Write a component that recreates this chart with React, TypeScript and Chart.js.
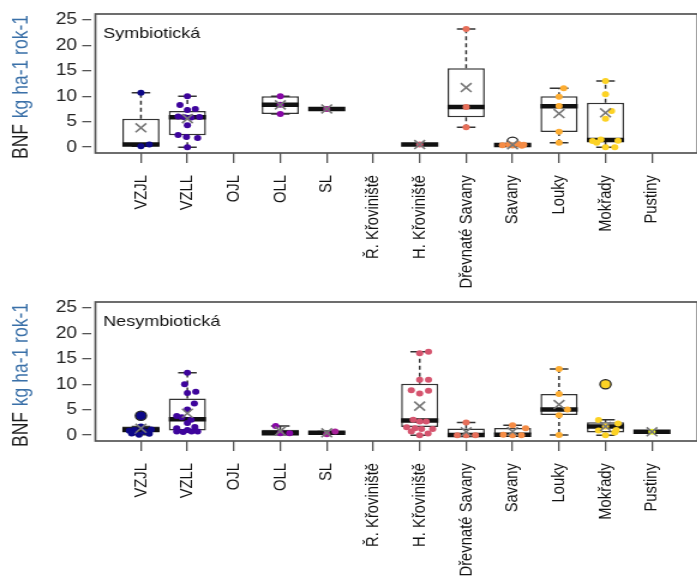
import React, { useEffect, useRef } from "react";
import { Chart, registerables } from "chart.js";

Chart.register(...registerables);

// ---- categories, colours, axis ticks ----
const categories = [
  "VZJL", "VZLL", "OJL", "OLL", "SL", "Ř. Křoviniště", "H. Křoviniště",
  "Dřevnaté Savany", "Savany", "Louky", "Mokřady", "Pustiny",
];
const habitatColors = [
  "#0D0887", "#3E049C", "#6300A7", "#8707A6", "#A62098", "#C03A83",
  "#D5546E", "#E76F5A", "#F58C46", "#FDAD32", "#FCD225", "#F0F921",
];
const yTicks = [0, 5, 10, 15, 20, 25];

// ---- Symbiotická: box statistics per habitat ----
const symMin = [0.2, 0, null, 6.5, 7.5, null, 0.5, 3.9, 0.25, 0.85, 0, null];
const symQ1 = [0.3, 2.35, null, 6.5, 7.5, null, 0.5, 5.85, 0.3, 2.95, 1.05, null];
const symMedian = [0.5, 5.85, null, 8.35, 7.5, null, 0.5, 7.9, 0.4, 8.05, 1.4, null];
const symQ3 = [5.6, 7.1, null, 10.0, 7.5, null, 0.5, 15.5, 0.5, 10.0, 8.7, null];
const symMax = [10.7, 10.0, null, 10.0, 7.5, null, 0.5, 23.2, 0.6, 11.55, 13.0, null];
const symMean = [3.8, 5.6, null, 8.3, 7.5, null, 0.5, 11.7, 0.45, 6.6, 6.75, null];
const symValues = [
  [10.7, 0.2, 0.5],
  [10.0, 8.3, 7.3, 7.5, 6.0, 5.85, 5.8, 5.9, 4.3, 2.4, 2.0, 1.8, 0.0],
  [],
  [10.0, 8.35, 6.5],
  [7.5],
  [],
  [0.5],
  [23.2, 7.9, 3.9],
  [0.35, 0.5, 0.3, 0.6, 0.25, 0.45],
  [11.55, 9.9, 8.1, 3.0, 0.85],
  [13.0, 10.4, 7.1, 5.6, 1.2, 1.5, 0.85, 1.25, 0.0, 0.0],
  [],
];
const symJitter = [
  [0, 0, 0.18],
  [0, -0.16, 0, 0.17, -0.2, -0.06, 0.08, 0.26, 0, -0.2, -0.02, 0.22, 0],
  [],
  [0, 0, 0],
  [0],
  [],
  [0],
  [0, 0, 0],
  [-0.22, -0.08, 0, 0.12, 0.2, 0.24],
  [0.1, 0, 0, 0, 0],
  [0, 0, 0.13, 0, -0.28, -0.1, -0.19, 0.27, 0, 0.2],
  [],
];
const symOutliers = [[], [], [], [], [], [], [], [], [1.05], [], [], []];

// ---- Nesymbiotická: box statistics per habitat ----
const nesMin = [0.06, 0.6, null, 0.35, 0.2, null, 0, 0, 0, 0.05, 0, 0.65];
const nesQ1 = [0.5, 0.9, null, 0.35, 0.3, null, 1.6, 0, 0, 3.95, 0.5, 0.65];
const nesMedian = [1.05, 3.1, null, 0.35, 0.45, null, 2.9, 0.05, 0.1, 5.05, 1.7, 0.65];
const nesQ3 = [1.7, 7.2, null, 1.05, 0.6, null, 10.1, 1.3, 1.4, 8.1, 2.55, 0.65];
const nesMax = [1.7, 12.25, null, 1.8, 0.7, null, 16.4, 2.5, 1.95, 13.0, 3.0, 0.65];
const nesMean = [1.35, 4.3, null, 0.8, 0.45, null, 5.7, 0.65, 0.7, 6.0, 1.7, 0.65];
const nesValues = [
  [3.8, 0.84, 1.03, 1.68, 0.7, 0.25, 0.06, 1.1, 0.3],
  [12.25, 10.0, 8.3, 8.5, 6.2, 5.05, 3.75, 3.5, 3.0, 1.35, 1.0, 1.6, 0.7, 0.6, 0.7, 0.7, 2.4],
  [],
  [1.8, 0.35, 0.35],
  [0.2, 0.7],
  [],
  [16.1, 16.4, 10.9, 10.9, 8.8, 8.2, 8.7, 3.0, 2.7, 2.7, 1.55, 1.35, 1.2, 1.2, 0.7, 0.0, 0.3],
  [2.5, 0.0, 0.0, 0.0],
  [1.95, 0.1, 0.0, 0.0, 1.35],
  [13.0, 8.1, 5.05, 3.9, 0.05],
  [10.0, 2.98, 1.7, 2.3, 1.0, 0.9, 0.0, 0.5],
  [0.65],
];
const nesJitter = [
  [0, -0.25, -0.14, 0, 0.08, 0.18, -0.04, 0.22, -0.2],
  [0, -0.06, 0, 0.18, 0.15, 0, -0.23, -0.12, 0.08, -0.23, 0, 0.16, -0.23, -0.09, 0.09, 0.22, 0],
  [],
  [-0.1, 0, 0.2],
  [0, 0.18],
  [],
  [0, 0.19, 0, 0.19, -0.18, 0, 0.19, -0.14, 0, 0.14, -0.28, -0.1, 0.04, 0.28, -0.18, 0, 0.18],
  [0, -0.19, 0, 0.2],
  [0, -0.2, 0, 0.19, 0.28],
  [0, 0, 0.18, 0, 0],
  [0, -0.15, 0, 0.27, 0.23, -0.15, 0, 0.2],
  [0],
];
const nesOutliers = [[3.8], [], [], [], [], [], [], [], [], [], [10.0], []];

// ---- drawing constants ----
const H_SCALE = 1.2; // horizontal scale applied to each panel canvas
const CANVAS_W = 581;
const PLOT_TOP = 14;
const PLOT_BOTTOM = 153;
const FRAME_X = [0.02, 12.98];
const FONT = "'Liberation Sans', Arial, sans-serif";

type Panel = {
  name: string;
  min: (number | null)[];
  q1: (number | null)[];
  median: (number | null)[];
  q3: (number | null)[];
  max: (number | null)[];
  mean: (number | null)[];
  values: number[][];
  jitter: number[][];
  outliers: number[][];
  outlierFilled: boolean;
};

const panels: Panel[] = [
  {
    name: "Symbiotická", min: symMin, q1: symQ1, median: symMedian, q3: symQ3,
    max: symMax, mean: symMean, values: symValues, jitter: symJitter,
    outliers: symOutliers, outlierFilled: false,
  },
  {
    name: "Nesymbiotická", min: nesMin, q1: nesQ1, median: nesMedian, q3: nesQ3,
    max: nesMax, mean: nesMean, values: nesValues, jitter: nesJitter,
    outliers: nesOutliers, outlierFilled: true,
  },
];

const GAP = { x: NaN, y: null as any };

function buildConfig(p: Panel, height: number): any {
  const boxes: any[] = [];
  const whiskers: any[] = [];
  const caps: any[] = [];
  const medians: any[] = [];
  const means: any[] = [];
  categories.forEach((_, i) => {
    const x = i + 1;
    if (p.q1[i] == null) return;
    boxes.push({ x, y: [p.q1[i], p.q3[i]] });
    whiskers.push({ x, y: p.q3[i] }, { x, y: p.max[i] }, { ...GAP, x });
    whiskers.push({ x, y: p.q1[i] }, { x, y: p.min[i] }, { ...GAP, x });
    caps.push({ x: x - 0.2, y: p.max[i] }, { x: x + 0.2, y: p.max[i] }, { ...GAP, x });
    caps.push({ x: x - 0.2, y: p.min[i] }, { x: x + 0.2, y: p.min[i] }, { ...GAP, x });
    medians.push({ x: x - 0.4, y: p.median[i] }, { x: x + 0.4, y: p.median[i] }, { ...GAP, x });
    means.push({ x, y: p.mean[i] });
  });

  const pts: any[] = [];
  const ptColors: string[] = [];
  p.values.forEach((vals, i) => {
    vals.forEach((v, k) => {
      pts.push({ x: i + 1 + p.jitter[i][k], y: v });
      ptColors.push(habitatColors[i]);
    });
  });

  const outs: any[] = [];
  const outFill: string[] = [];
  p.outliers.forEach((vals, i) => {
    vals.forEach((v) => {
      outs.push({ x: i + 1, y: v });
      outFill.push(p.outlierFilled ? habitatColors[i] : "rgba(0,0,0,0)");
    });
  });

  const decor = {
    id: "panelDecor",
    beforeDatasetsDraw(chart: any) {
      const { ctx, chartArea, scales } = chart;
      const l = scales.x.getPixelForValue(FRAME_X[0]);
      const r = scales.x.getPixelForValue(FRAME_X[1]);
      ctx.save();
      ctx.strokeStyle = "#555";
      ctx.lineWidth = 1.7;
      ctx.strokeRect(l, chartArea.top, r - l, chartArea.bottom - chartArea.top);
      ctx.restore();
    },
    afterDraw(chart: any) {
      const { ctx, scales } = chart;
      const l = scales.x.getPixelForValue(FRAME_X[0]);
      ctx.save();
      ctx.fillStyle = "#111";
      ctx.font = `15px ${FONT}`;
      ctx.textBaseline = "alphabetic";
      ctx.textAlign = "left";
      ctx.fillText(p.name, l + 6.5, 37.5);

      // y axis title
      ctx.font = `17.5px ${FONT}`;
      ctx.translate(18.5, 159);
      ctx.rotate(-Math.PI / 2);
      ctx.textBaseline = "middle";
      ctx.fillStyle = "#1a1a1a";
      ctx.fillText("BNF", 0, 0);
      const w = ctx.measureText("BNF ").width;
      ctx.fillStyle = "#3a70a8";
      ctx.fillText("kg ha-1 rok-1", w + 1, 0);
      ctx.restore();
    },
  };

  return {
    type: "scatter",
    data: {
      datasets: [
        {
          type: "line", data: means, showLine: false, order: 0,
          pointStyle: "crossRot", pointRadius: 6.3, pointBorderColor: "#777",
          pointBorderWidth: 1.6, pointBackgroundColor: "#777",
        },
        {
          type: "line", data: pts, showLine: false, order: 1,
          pointRadius: 3, pointBorderWidth: 0, pointBackgroundColor: ptColors,
        },
        {
          type: "line", data: outs, showLine: false, order: 2,
          pointRadius: 4.6, pointBorderWidth: 1.3, pointBorderColor: "#222",
          pointBackgroundColor: outFill,
        },
        {
          type: "line", data: medians, order: 3, borderColor: "#111",
          borderWidth: 4.5, borderCapStyle: "butt", pointRadius: 0, spanGaps: false,
        },
        {
          type: "line", data: caps, order: 4, borderColor: "#333",
          borderWidth: 1.5, pointRadius: 0, spanGaps: false,
        },
        {
          type: "bar", data: boxes, order: 5, backgroundColor: "#ffffff",
          borderColor: "#333", borderWidth: 1.5, borderSkipped: false,
          barPercentage: 0.8, categoryPercentage: 1,
        },
        {
          type: "line", data: whiskers, order: 6, borderColor: "#333",
          borderWidth: 1.5, borderDash: [4, 3], pointRadius: 0, spanGaps: false,
        },
      ],
    },
    options: {
      responsive: false,
      animation: false,
      events: [],
      layout: { padding: { top: PLOT_TOP, left: 0, right: 0, bottom: 0 } },
      plugins: { legend: { display: false }, tooltip: { enabled: false } },
      scales: {
        x: {
          type: "linear", min: -0.07, max: 12.77, offset: false,
          afterBuildTicks: (s: any) => {
            s.ticks = categories.map((_, i) => ({ value: i + 1 }));
          },
          afterFit: (s: any) => { s.height = height - PLOT_BOTTOM; },
          grid: { drawOnChartArea: false, offset: false, tickLength: 10, color: "#555", lineWidth: 1.3 },
          border: { display: false },
          ticks: {
            autoSkip: false, minRotation: 90, maxRotation: 90, padding: 12,
            color: "#111", font: { family: FONT, size: 14.8 },
            callback: (v: any) => categories[Math.round(v) - 1] ?? "",
          },
        },
        y: {
          type: "linear", min: -1.15, max: 26.15,
          afterBuildTicks: (s: any) => { s.ticks = yTicks.map((v) => ({ value: v })); },
          afterFit: (s: any) => { s.width = 76; },
          grid: { drawOnChartArea: false, tickLength: 7.5, color: "#555", lineWidth: 1.3 },
          border: { display: false },
          ticks: { padding: 4.3, color: "#222", font: { family: FONT, size: 16 } },
        },
      },
    },
    plugins: [decor],
  };
}

const PANEL_LAYOUT = [
  { top: 0, height: 293 },
  { top: 288, height: 295 },
];

export default function App() {
  const topRef = useRef<HTMLCanvasElement>(null);
  const bottomRef = useRef<HTMLCanvasElement>(null);

  useEffect(() => {
    const refs = [topRef, bottomRef];
    const charts = refs.map((r, i) =>
      new Chart(r.current as HTMLCanvasElement, buildConfig(panels[i], PANEL_LAYOUT[i].height))
    );
    return () => charts.forEach((c) => c.destroy());
  }, []);

  const refs = [topRef, bottomRef];
  return (
    <div
      style={{
        position: "fixed", left: 0, top: 0, width: 697, height: 583,
        overflow: "hidden", background: "#fff",
      }}
    >
      {PANEL_LAYOUT.map((l, i) => (
        <div
          key={i}
          style={{
            position: "absolute", left: 0, top: l.top, width: CANVAS_W, height: l.height,
            transform: `scaleX(${H_SCALE})`, transformOrigin: "0 0", overflow: "hidden",
          }}
        >
          <canvas ref={refs[i]} width={CANVAS_W} height={l.height} style={{ display: "block" }} />
        </div>
      ))}
    </div>
  );
}
